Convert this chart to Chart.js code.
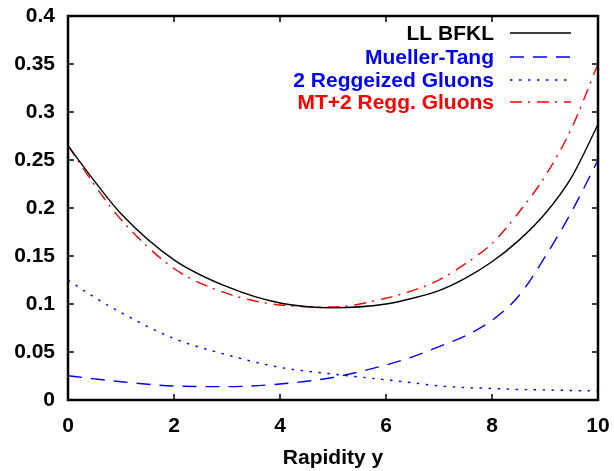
<!DOCTYPE html>
<html>
<head>
<meta charset="utf-8">
<script src="https://cdn.jsdelivr.net/npm/chart.js@4/dist/chart.umd.min.js"></script>
<style>
html,body{margin:0;padding:0;background:#fff;}
#wrap{width:614px;height:471px;position:relative;}
</style>
</head>
<body>
<div id="wrap"><canvas id="c" width="614" height="471"></canvas></div>
<script>
const rapidity = [0, 0.5, 1, 2, 3, 4, 5, 6, 6.5, 7, 7.5, 8, 8.5, 9, 9.5, 10];
const llBFKL      = [0.265, 0.228, 0.194, 0.146, 0.118, 0.101, 0.096, 0.100, 0.106, 0.114, 0.127, 0.144, 0.166, 0.194, 0.232, 0.287];
const muellerTang = [0.0253, 0.022, 0.019, 0.0146, 0.0139, 0.0167, 0.0235, 0.0365, 0.045, 0.0556, 0.067, 0.083, 0.108, 0.149, 0.196, 0.25];
const reggGluons  = [0.125, 0.107, 0.091, 0.064, 0.047, 0.034, 0.027, 0.021, 0.018, 0.0146, 0.013, 0.012, 0.011, 0.0105, 0.0099, 0.0094];
const mtPlusRegg  = [0.265, 0.224, 0.188, 0.137, 0.111, 0.099, 0.097, 0.106, 0.114, 0.125, 0.142, 0.163, 0.195, 0.233, 0.283, 0.35];
const seriesNames = ["LL BFKL", "Mueller-Tang", "2 Reggeized Gluons", "MT+2 Regg. Gluons"];
const xTicks = [0, 2, 4, 6, 8, 10];
const yTicks = [0, 0.05, 0.1, 0.15, 0.2, 0.25, 0.3, 0.35, 0.4];

const FONT = "'Liberation Sans', Arial, sans-serif";
const FS = 21;
const colors = ["#000000", "#0000ff", "#0000ff", "#ff0000"];
const dashes = [[], [14, 9], [2.5, 6.5], [12, 6, 2, 7]];
const values = [llBFKL, muellerTang, reggGluons, mtPlusRegg];

const datasets = values.map((vals, i) => ({
  label: seriesNames[i],
  data: rapidity.map((x, j) => ({x: x, y: vals[j]})),
  borderColor: colors[i],
  borderWidth: 1.4,
  borderDash: dashes[i],
  pointRadius: 0,
  fill: false,
  cubicInterpolationMode: 'monotone'
}));

const framePlugin = {
  id: 'frame',
  afterDraw(chart) {
    const ctx = chart.ctx;
    const a = chart.chartArea;
    const xs = chart.scales.x, ys = chart.scales.y;
    ctx.save();
    ctx.strokeStyle = '#000';
    ctx.lineWidth = 1.5;
    const L = 6;
    ctx.beginPath();
    xTicks.forEach(v => {
      if (v === 0 || v === 10) return;
      const px = xs.getPixelForValue(v);
      ctx.moveTo(px, a.bottom); ctx.lineTo(px, a.bottom - L);
      ctx.moveTo(px, a.top); ctx.lineTo(px, a.top + L);
    });
    yTicks.forEach(v => {
      if (v === 0 || v === 0.4) return;
      const py = ys.getPixelForValue(v);
      ctx.moveTo(a.left, py); ctx.lineTo(a.left + L, py);
      ctx.moveTo(a.right, py); ctx.lineTo(a.right - L, py);
    });
    ctx.stroke();
    ctx.lineWidth = 2.5;
    ctx.strokeRect(a.left, a.top, a.right - a.left, a.bottom - a.top);

    // legend
    ctx.font = "bold " + FS + "px " + FONT;
    ctx.textAlign = 'right';
    ctx.textBaseline = 'middle';
    const ys0 = [33, 57, 80, 102];
    seriesNames.forEach((n, i) => {
      const y = ys0[i];
      ctx.fillStyle = colors[i];
      ctx.fillText(n, 494, y + 1);
      ctx.strokeStyle = colors[i];
      ctx.lineWidth = 1.4;
      ctx.setLineDash(dashes[i]);
      ctx.beginPath();
      ctx.moveTo(510, y); ctx.lineTo(571, y);
      ctx.stroke();
    });
    ctx.restore();
  }
};

new Chart(document.getElementById('c'), {
  type: 'line',
  data: { datasets },
  options: {
    responsive: false,
    animation: false,
    devicePixelRatio: 1,
    layout: { padding: { left: 0, right: 16, top: 16, bottom: 0 } },
    plugins: { legend: { display: false }, tooltip: { enabled: false } },
    scales: {
      x: {
        type: 'linear', min: 0, max: 10,
        afterBuildTicks: s => { s.ticks = xTicks.map(v => ({value: v})); },
        afterFit: s => { s.height = 71; s.paddingLeft = 0; s.paddingRight = 0; },
        grid: { display: false, drawTicks: false },
        border: { display: false },
        ticks: { color: '#000', font: { family: FONT, size: FS, weight: 'bold' }, padding: 14, maxRotation: 0,
                 callback: v => String(v) },
        title: { display: true, text: 'Rapidity y', color: '#000',
                 font: { family: FONT, size: FS, weight: 'bold' }, padding: { top: 5, bottom: 0 } }
      },
      y: {
        type: 'linear', min: 0, max: 0.4,
        afterBuildTicks: s => { s.ticks = yTicks.map(v => ({value: v})); },
        afterFit: s => { s.width = 68; s.paddingTop = 0; s.paddingBottom = 0; },
        grid: { display: false, drawTicks: false },
        border: { display: false },
        ticks: { color: '#000', font: { family: FONT, size: FS, weight: 'bold' }, padding: 13,
                 callback: v => String(Number(v.toFixed(2))) }
      }
    }
  },
  plugins: [framePlugin]
});
</script>
</body>
</html>
